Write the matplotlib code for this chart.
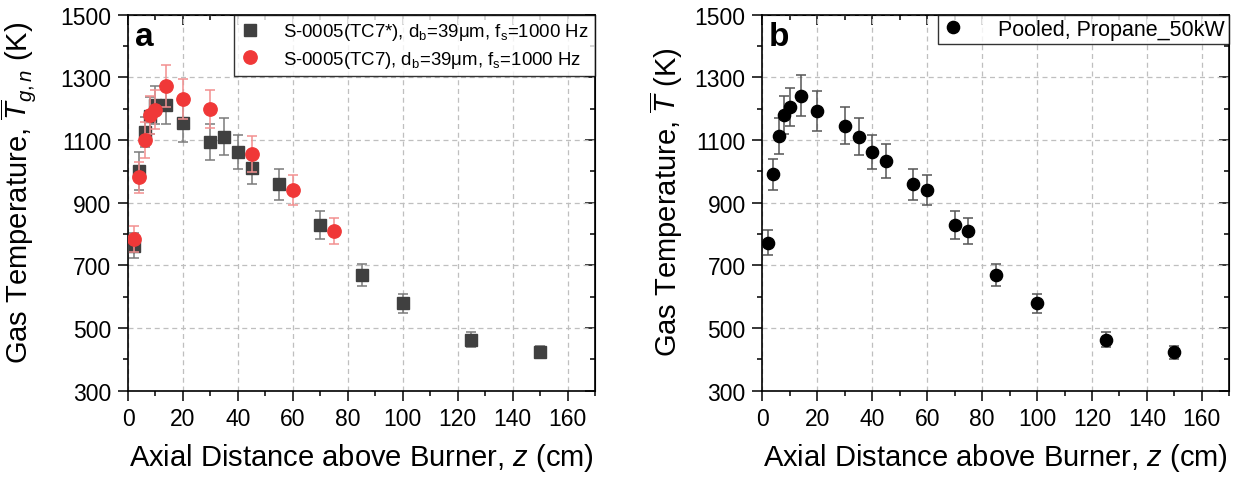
import numpy as np
import matplotlib
matplotlib.use('Agg')
import matplotlib.pyplot as plt
from matplotlib.ticker import MultipleLocator, FixedLocator
from matplotlib.lines import Line2D

plt.rcParams['font.family'] = ['Liberation Sans', 'DejaVu Sans']
plt.rcParams['mathtext.fontset'] = 'custom'
plt.rcParams['mathtext.rm'] = 'Liberation Sans'
plt.rcParams['mathtext.it'] = 'Liberation Sans:italic'

# panel a, S-0005 (TC7*) squares
z_sq = [2, 4, 6, 8, 10, 14, 20, 30, 35, 40, 45, 55, 70, 85, 100, 125, 150]
t_sq = [763, 1002, 1127, 1178, 1212, 1212, 1155, 1093, 1111, 1061, 1012, 959, 829, 668, 579, 463, 423]
e_sq = [39, 61, 48, 60, 60, 62, 62, 57, 58, 55, 52, 50, 44, 35, 30, 23, 20]

# panel a, S-0005 (TC7) circles
z_rd = [2, 4, 6, 8, 10, 14, 20, 30, 45, 60, 75]
t_rd = [784, 981, 1100, 1180, 1196, 1272, 1231, 1199, 1056, 940, 809]
e_rd = [41, 50, 57, 62, 62, 66, 64, 62, 57, 49, 42]

# panel b, pooled
z_pool = [2, 4, 6, 8, 10, 14, 20, 30, 35, 40, 45, 55, 60, 70, 75, 85, 100, 125, 150]
t_pool = [772, 990, 1112, 1180, 1205, 1242, 1192, 1146, 1111, 1061, 1034, 959, 940, 829, 810, 669, 579, 463, 423]
e_pool = [40, 50, 57, 61, 61, 64, 63, 59, 58, 55, 54, 50, 49, 44, 42, 35, 30, 24, 21]

label_sq = 'S-0005(TC7*), d$_\\mathregular{b}$=39μm, f$_\\mathregular{s}$=1000 Hz'
label_rd = 'S-0005(TC7), d$_\\mathregular{b}$=39μm, f$_\\mathregular{s}$=1000 Hz'
label_pool = 'Pooled, Propane_50kW'

x_ticks = np.arange(0, 161, 20)
y_ticks = np.arange(300, 1501, 200)


def style_axes(ax):
    ax.set_xlim(0, 170)
    ax.set_ylim(300, 1500)
    ax.xaxis.set_major_locator(FixedLocator(x_ticks))
    ax.xaxis.set_minor_locator(MultipleLocator(10))
    ax.yaxis.set_major_locator(FixedLocator(y_ticks))
    ax.yaxis.set_minor_locator(MultipleLocator(100))
    ax.grid(True, which='major', linestyle=(0, (4, 3)), color='#bfbfbf', linewidth=0.9)
    ax.set_axisbelow(True)
    for s in ax.spines.values():
        s.set_linewidth(1.2)
    ax.tick_params(axis='both', which='major', labelsize=16.5, length=7, width=1.1, pad=5)
    ax.tick_params(axis='both', which='minor', length=3.5, width=1.1)
    ax.tick_params(axis='x', which='both', direction='out', top=False)
    ax.tick_params(axis='y', which='both', direction='out', right=False)
    # inward ticks on top and right
    tx = ax.secondary_xaxis('top')
    tx.set_xticks(x_ticks)
    tx.xaxis.set_minor_locator(MultipleLocator(10))
    tx.tick_params(which='major', direction='in', length=7, width=1.1, labeltop=False)
    tx.tick_params(which='minor', direction='in', length=3.5, width=1.1)
    ty = ax.secondary_yaxis('right')
    ty.set_yticks(y_ticks)
    ty.yaxis.set_minor_locator(MultipleLocator(100))
    ty.tick_params(which='major', direction='in', length=7, width=1.1, labelright=False)
    ty.tick_params(which='minor', direction='in', length=3.5, width=1.1)
    ax.set_xlabel('Axial Distance above Burner, $z$ (cm)', fontsize=21, labelpad=8)


fig = plt.figure(figsize=(12.37, 4.85), dpi=100)
ax1 = fig.add_axes([0.1035, 0.1924, 0.3775, 0.7753])
ax2 = fig.add_axes([0.6163, 0.1924, 0.3775, 0.7753])

style_axes(ax1)
ax1.errorbar(z_sq, t_sq, yerr=e_sq, fmt='s', color='#404040', ms=8.8,
             ecolor='#7a7a7a', elinewidth=1.1, capsize=3.6, capthick=1.1, zorder=3)
ax1.errorbar(z_rd, t_rd, yerr=e_rd, fmt='o', color='#f03838', ms=9.6,
             ecolor='#f29090', elinewidth=1.1, capsize=3.6, capthick=1.1, zorder=4)
ax1.set_ylabel('Gas Temperature, $\\overline{T}_{g,n}$ (K)', fontsize=21)
ax1.yaxis.set_label_coords(-0.193, 0.53)
ax1.text(0.015, 0.918, 'a', transform=ax1.transAxes, fontsize=24,
         fontweight='bold', va='baseline', ha='left')
h1 = [Line2D([], [], marker='s', ls='none', color='#404040', ms=8.8),
      Line2D([], [], marker='o', ls='none', color='#f03838', ms=9.6)]
leg1 = ax1.legend(h1, [label_sq, label_rd], loc='upper right', fontsize=13.4,
                  borderaxespad=0, frameon=True, fancybox=False, edgecolor='black',
                  handlelength=1.0, handletextpad=1.3, borderpad=0.35, labelspacing=0.35)
leg1.get_frame().set_linewidth(1.0)

style_axes(ax2)
ax2.errorbar(z_pool, t_pool, yerr=e_pool, fmt='o', color='black', ms=8.8,
             ecolor='#555555', elinewidth=1.1, capsize=3.6, capthick=1.1, zorder=3)
ax2.set_ylabel('Gas Temperature, $\\overline{T}$ (K)', fontsize=21)
ax2.yaxis.set_label_coords(-0.166, 0.505)
ax2.text(0.013, 0.918, 'b', transform=ax2.transAxes, fontsize=24,
         fontweight='bold', va='baseline', ha='left')
h2 = [Line2D([], [], marker='o', ls='none', color='black', ms=8.8)]
leg2 = ax2.legend(h2, [label_pool], loc='upper right', fontsize=15.5,
                  borderaxespad=0, frameon=True, fancybox=False, edgecolor='black',
                  handlelength=1.0, handletextpad=1.6, borderpad=0.2)
leg2.get_frame().set_linewidth(1.0)

fig.savefig('out.png', dpi=100)
